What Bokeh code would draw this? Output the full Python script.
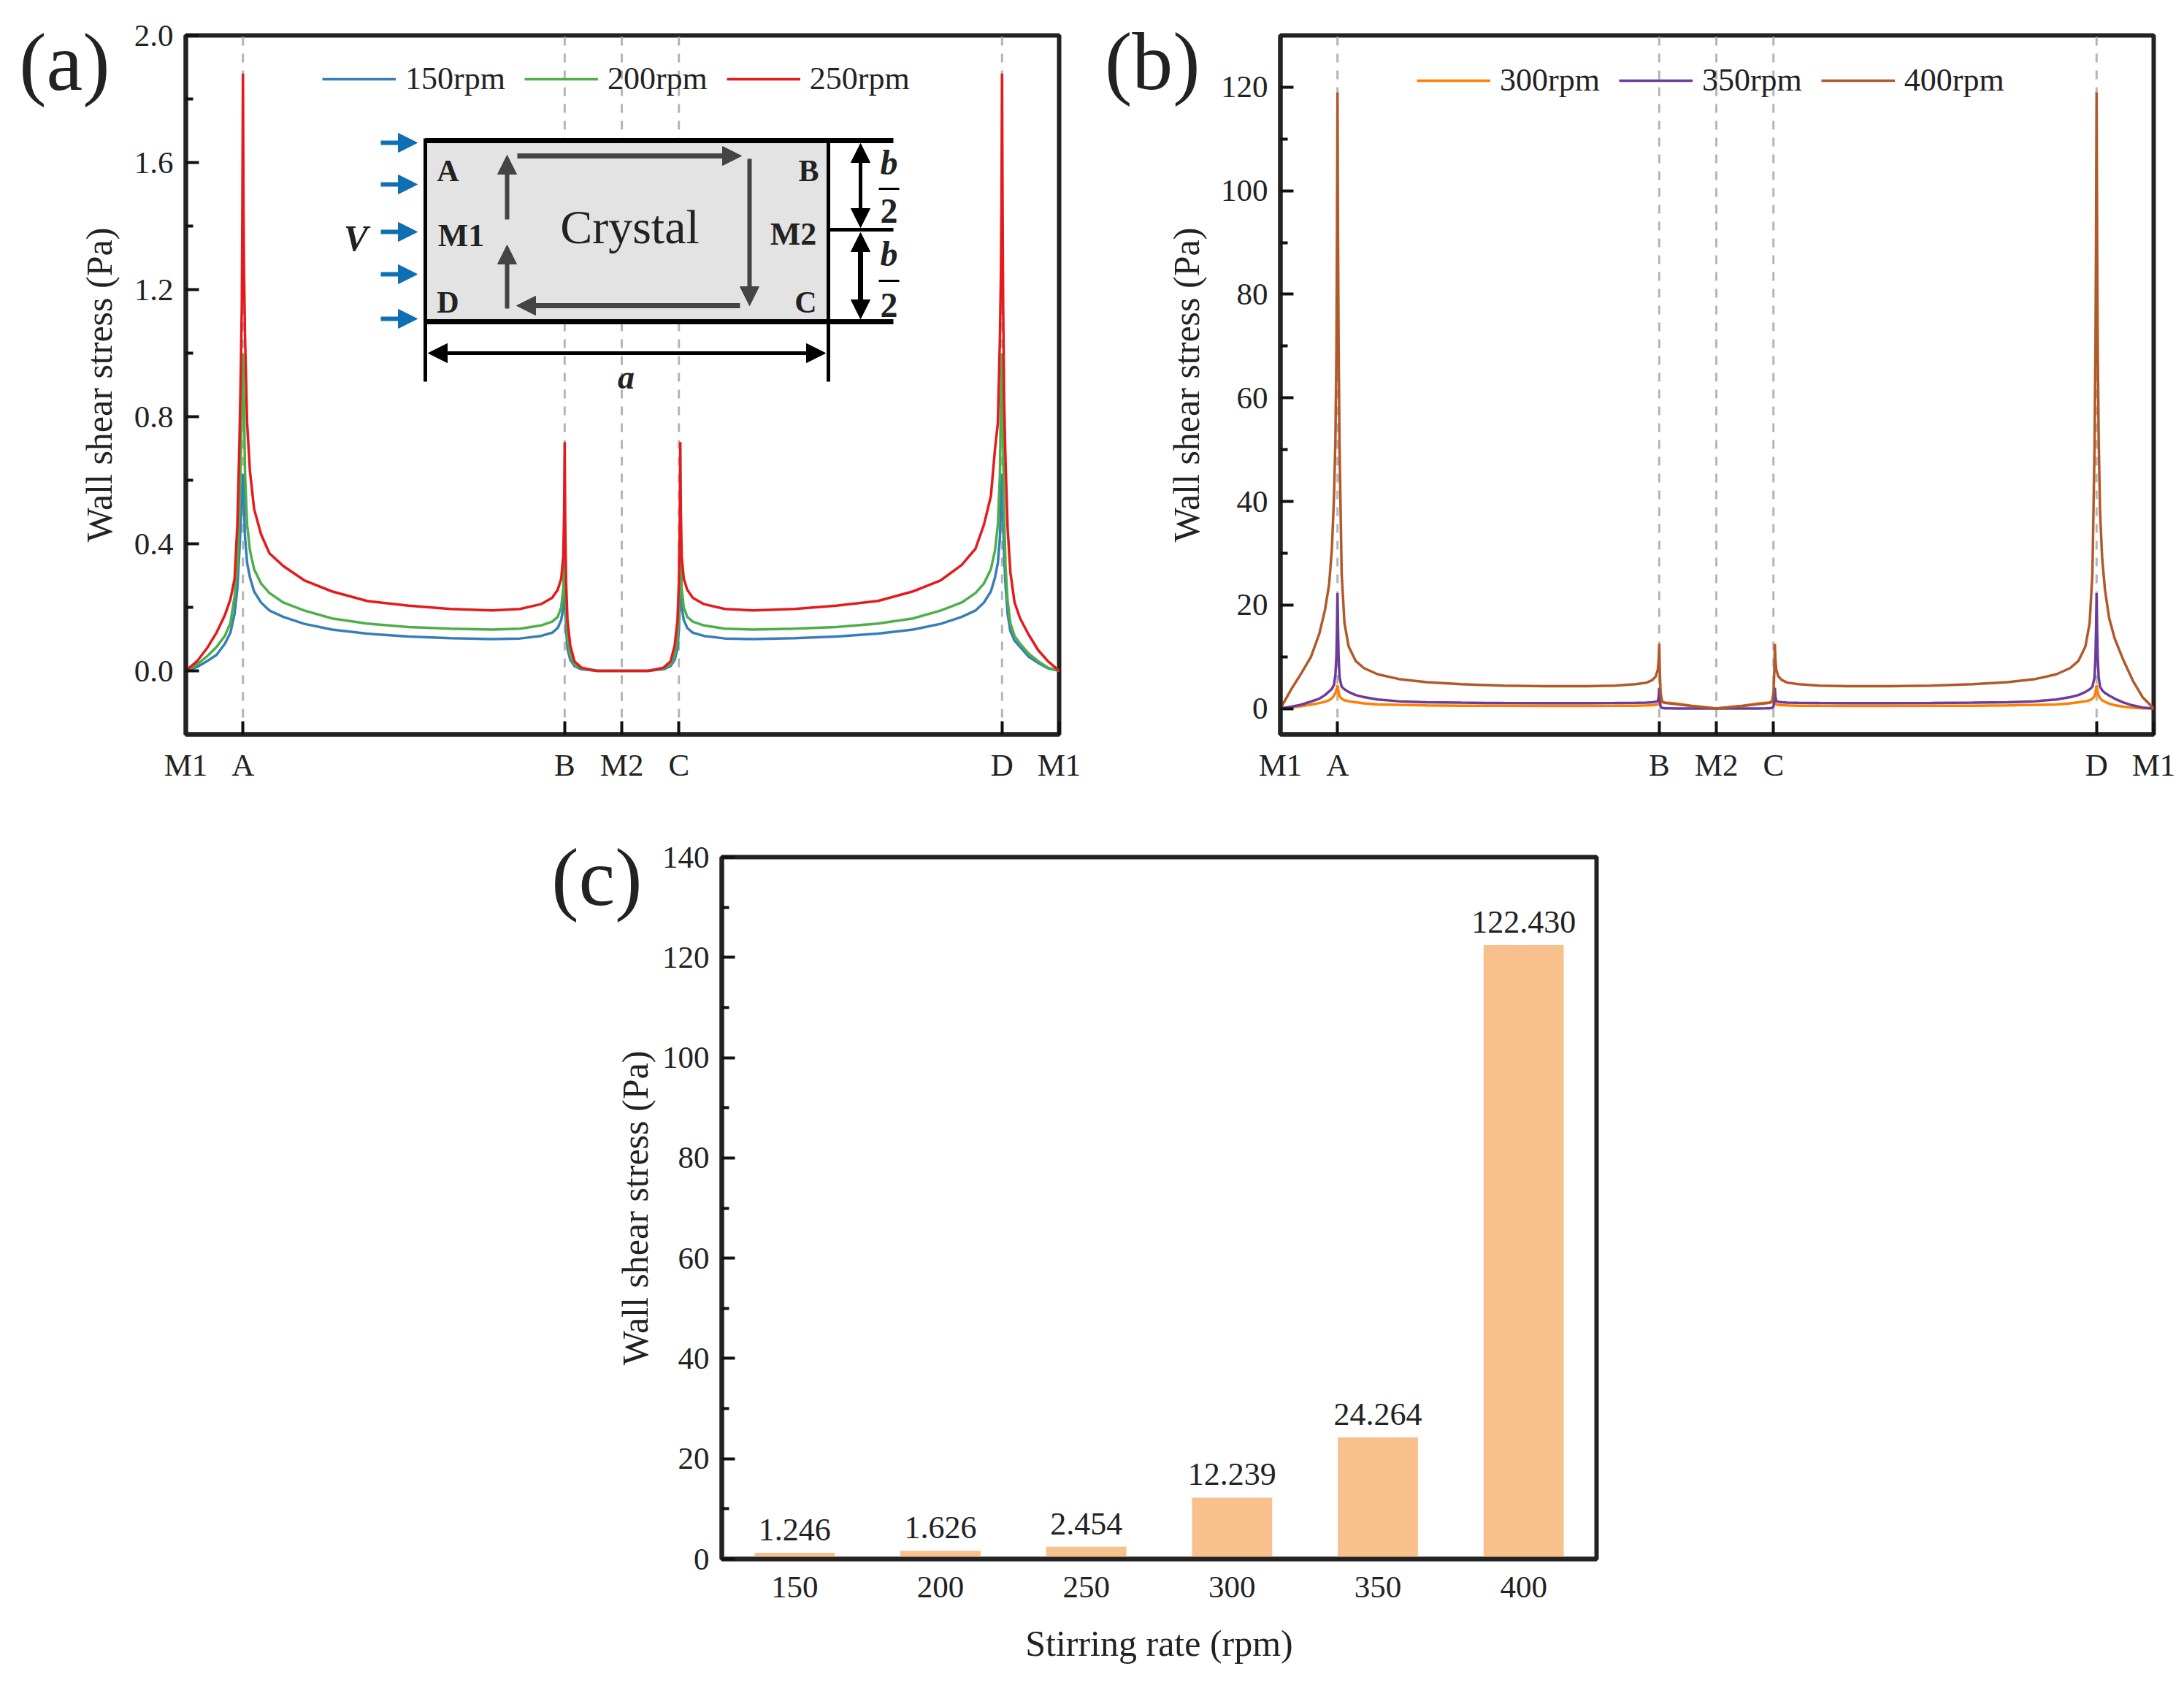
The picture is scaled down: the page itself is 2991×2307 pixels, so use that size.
from bokeh.plotting import figure
from bokeh.layouts import column, row
from bokeh.models import (FixedTicker, Range1d, FactorRange, Legend, LegendItem, Label, Arrow, NormalHead,
                          Spacer, ColumnDataSource, LinearAxis)
from bokeh.core.properties import value
from bokeh.embed import file_html
from bokeh.resources import INLINE

FONT = "Liberation Serif"
INK = "#222222"

# perimeter position of every sampled point (M1 -> A -> B -> M2 -> C -> D -> M1)
s = [0, 8, 15, 22, 28, 32, 35, 37, 38.5, 39.5, 40.2, 40.6, 41,
     41.4, 41.8, 42.5, 44, 46, 49, 54, 60, 70, 85, 105, 130, 160, 190, 220, 240, 255, 263, 267, 269.5, 271, 271.6, 272,
     272.4, 273, 274, 276, 279, 284, 295, 313,
     332, 343, 348, 351, 353, 354, 354.6, 355,
     355.4, 356, 357.5, 360, 364, 372, 387, 407, 437, 467, 497, 522, 542, 557, 567, 573, 578, 581, 583, 584.5, 585.2, 585.6, 586,
     586.4, 586.8, 587.5, 588.5, 590, 592, 595, 599, 605, 612, 619, 627]

rpm150 = [0, .012, .03, .05, .085, .12, .18, .26, .38, .47, .55, .59, .62,
          .59, .52, .42, .34, .295, .25, .215, .19, .17, .148, .13, .117, .108, .103, .10, .102, .11, .12, .135, .16, .2, .27, .36,
          .22, .13, .07, .035, .015, .005, 0, 0,
          0, .005, .015, .035, .07, .13, .22, .36,
          .27, .2, .16, .135, .12, .11, .102, .10, .103, .108, .117, .13, .148, .17, .19, .215, .25, .295, .34, .42, .52, .59, .62,
          .55, .47, .36, .27, .18, .125, .095, .075, .045, .025, .008, 0]
rpm200 = [0, .02, .045, .075, .11, .15, .235, .33, .5, .68, .82, .92, 1.0,
          .92, .85, .62, .46, .38, .32, .275, .245, .215, .19, .165, .149, .138, .133, .13, .133, .143, .155, .17, .2, .26, .34, .48,
          .3, .18, .1, .05, .02, .008, 0, 0,
          0, .008, .02, .05, .1, .18, .3, .48,
          .34, .26, .2, .17, .155, .143, .133, .13, .133, .138, .149, .165, .19, .215, .245, .275, .32, .38, .46, .62, .85, .92, 1.0,
          .85, .7, .5, .33, .22, .15, .11, .085, .055, .03, .01, 0]
rpm250 = [0, .03, .07, .12, .175, .225, .29, .46, .72, .95, 1.15, 1.45, 1.88,
          1.45, 1.25, 1.05, .78, .63, .51, .43, .37, .33, .285, .25, .22, .205, .195, .19, .195, .21, .23, .255, .29, .36, .5, .72,
          .45, .28, .16, .08, .03, .01, 0, 0,
          0, .01, .03, .08, .16, .28, .45, .72,
          .5, .36, .29, .255, .23, .21, .195, .19, .195, .205, .22, .25, .285, .333, .385, .46, .55, .70, .78, 1.05, 1.25, 1.45, 1.88,
          1.45, 1.15, .85, .66, .45, .31, .215, .165, .115, .065, .03, 0]
rpm300 = [0, .2, .45, .75, 1.05, 1.3, 1.6, 2, 2.5, 3, 3.6, 4, 4.5,
          3.8, 3.2, 2.4, 1.9, 1.6, 1.4, 1.2, 1, .8, .7, .6, .55, .52, .5, .5, .52, .55, .6, .65, .7, .8, 1, 1.3,
          1.3, 1.25, 1.2, 1.15, 1.1, .95, .55, 0,
          .55, .95, 1.1, 1.15, 1.2, 1.25, 1.3, 1.3,
          1, .8, .7, .65, .6, .55, .52, .5, .5, .52, .55, .6, .7, .8, 1, 1.2, 1.4, 1.6, 1.9, 2.4, 3.2, 3.8, 4.5,
          3.8, 3.2, 2.5, 2, 1.6, 1.3, .95, .65, .35, .15, .04, 0]
rpm350 = [0, .35, .75, 1.35, 1.9, 2.6, 3.3, 3.8, 4.6, 6.5, 10, 15, 22.3,
          15, 10, 6, 4.2, 3.7, 3.2, 2.6, 2.2, 1.75, 1.4, 1.2, 1.12, 1.05, 1.03, 1.03, 1.05, 1.1, 1.15, 1.2, 1.3, 1.5, 2.3, 4,
          1.5, .3, .1, .05, .03, .02, .01, 0,
          .01, .02, .03, .05, .1, .3, 1.5, 4,
          2.3, 1.5, 1.3, 1.2, 1.15, 1.1, 1.05, 1.03, 1.03, 1.05, 1.12, 1.2, 1.4, 1.75, 2.2, 2.6, 3.2, 3.7, 4.2, 6, 10, 15, 22.3,
          15, 10, 6, 4.2, 3.5, 3, 2.5, 1.9, 1.2, .6, .2, 0]
rpm400 = [0, 3.8, 6.8, 10, 14.5, 19, 24, 31, 41, 52, 68, 90, 119,
          90, 70, 50, 26, 16.5, 12, 9.2, 7.8, 6.6, 5.7, 5.1, 4.7, 4.4, 4.3, 4.3, 4.4, 4.7, 5, 5.5, 6.2, 7.5, 9.5, 12.5,
          7, 3, 1.4, 1.1, 1, .85, .5, 0,
          .5, .85, 1, 1.1, 1.4, 3, 7, 12.5,
          9.5, 7.5, 6.2, 5.5, 5, 4.7, 4.4, 4.3, 4.3, 4.4, 4.7, 5.1, 5.7, 6.6, 7.8, 9.2, 12, 16.5, 26, 50, 70, 90, 119,
          90, 70, 52, 38, 29, 23, 17.5, 13.5, 9.5, 5.4, 2.2, 0]

marker_pos = [0, 41, 272, 313, 354, 586, 627]
marker_lab = ["M1", "A", "B", "M2", "C", "D", "M1"]

y_ticks_a = [0.0, 0.4, 0.8, 1.2, 1.6, 2.0]
y_minor_a = [0.2, 0.6, 1.0, 1.4, 1.8]
y_ticks_b = [0, 20, 40, 60, 80, 100, 120]
y_minor_b = [10, 30, 50, 70, 90, 110]
y_ticks_c = [0, 20, 40, 60, 80, 100, 120, 140]
y_minor_c = [10, 30, 50, 70, 90, 110, 130]

rates = ["150", "200", "250", "300", "350", "400"]
peak_stress = [1.246, 1.626, 2.454, 12.239, 24.264, 122.430]
peak_labels = ["1.246", "1.626", "2.454", "12.239", "24.264", "122.430"]

AXIS_TXT = "43px"
LW = 3.5


def style(p, ylabel, yticks, yminor, standoff, fmt=None):
    p.outline_line_color = INK
    p.outline_line_width = 6
    p.grid.visible = False
    for ax in (p.xaxis[0], p.yaxis[0]):
        ax.axis_line_color = INK
        ax.axis_line_width = 6
        ax.major_tick_line_color = "#111111"
        ax.major_tick_line_width = 4
        ax.minor_tick_line_color = "#111111"
        ax.minor_tick_line_width = 4
        ax.major_tick_out = 0
        ax.minor_tick_out = 0
        ax.major_label_text_font = FONT
        ax.major_label_text_font_size = AXIS_TXT
        ax.major_label_text_color = INK
        ax.axis_label_text_font = FONT
        ax.axis_label_text_font_size = "50px"
        ax.axis_label_text_font_style = "normal"
        ax.axis_label_text_color = INK
    y = p.yaxis[0]
    y.ticker = FixedTicker(ticks=yticks, minor_ticks=yminor)
    y.major_tick_in = 18
    y.minor_tick_in = 10
    y.major_label_standoff = 17
    y.axis_label = ylabel
    y.axis_label_standoff = standoff
    if fmt:
        y.major_label_overrides = fmt


def marker_axis(p):
    x = p.xaxis[0]
    x.ticker = FixedTicker(ticks=marker_pos, minor_ticks=[])
    x.major_label_overrides = {m: l for m, l in zip(marker_pos[1:-1], marker_lab[1:-1])}
    x.major_label_overrides[0] = "M1"
    x.major_label_overrides[627] = "M1"
    x.major_tick_in = 18
    x.minor_tick_in = 0
    x.major_label_standoff = 18


def panel_tag(p, txt, y, standoff):
    # the tag sits beside the frame, where only an axis can draw
    p.add_layout(LinearAxis(ticker=FixedTicker(ticks=[y], minor_ticks=[]), major_label_overrides={y: txt},
                            axis_line_color=None, major_tick_line_color=None, minor_tick_line_color=None,
                            major_tick_in=0, major_tick_out=0, minor_tick_in=0, minor_tick_out=0,
                            major_label_standoff=standoff, major_label_text_font=FONT,
                            major_label_text_font_size="112px", major_label_text_color=INK), "left")


def legend(p, items, x, y):
    lg = Legend(items=[LegendItem(label=n, renderers=[r]) for n, r in items], orientation="horizontal",
                location=(x, y), background_fill_alpha=0, border_line_color=None, padding=0, margin=0,
                glyph_width=101, glyph_height=40, label_standoff=13, spacing=26,
                label_text_font=FONT, label_text_font_size="44px", label_text_color=INK)
    p.add_layout(lg, "center")


# ---------- panel (a)
FX0, FY0 = 254, 48          # page position of the frame
FW, FH = 1196, 957
pa = figure(width=1500, height=1100, output_backend="svg", toolbar_location=None,
            x_range=Range1d(0, 627), y_range=Range1d(-0.2, 2.0),
            min_border_left=254, min_border_right=50, min_border_top=48, min_border_bottom=95)
style(pa, "Wall shear stress (Pa)", y_ticks_a, y_minor_a, 17, {t: f"{t:.1f}" for t in y_ticks_a})
marker_axis(pa)
pa.segment(x0=marker_pos[1:-1], x1=marker_pos[1:-1], y0=[-0.2] * 5, y1=[2.0] * 5, line_color="#b5b5b5",
           line_width=3, line_dash="12 11")
r1 = pa.line(s, rpm150, line_color="#377eb8", line_width=LW)
r2 = pa.line(s, rpm200, line_color="#4daf4a", line_width=LW)
r3 = pa.line(s, rpm250, line_color="#e41a1c", line_width=LW)
legend(pa, [("150rpm", r1), ("200rpm", r2), ("250rpm", r3)], 187, 872)


def ax_(px):
    return (px - FX0) / FW * 627


def ay_(py):
    return 2.0 - (py - FY0) / FH * 2.2


def seg(x0, y0, x1, y1, w, color="black"):
    pa.segment(x0=[ax_(x0)], y0=[ay_(y0)], x1=[ax_(x1)], y1=[ay_(y1)], line_color=color, line_width=w)


def arrow(x0, y0, x1, y1, w, color, size, both=False):
    pa.add_layout(Arrow(x_start=ax_(x0), y_start=ay_(y0), x_end=ax_(x1), y_end=ay_(y1), line_color=color, line_width=w,
                        end=NormalHead(size=size, fill_color=color, line_color=color, line_width=1),
                        start=NormalHead(size=size, fill_color=color, line_color=color, line_width=1) if both else None))


def note(txt, x, y, size, style_="normal"):
    pa.add_layout(Label(x=ax_(x), y=ay_(y), text=txt, text_font=FONT, text_font_size=size, text_color=INK,
                        text_font_style=style_, text_align="center", text_baseline="middle"))


pa.quad(left=[ax_(582)], right=[ax_(1134)], top=[ay_(192)], bottom=[ay_(440)], fill_color="#e3e3e3", line_color=None)
seg(582, 192, 1223, 192, 7)
seg(582, 440, 1223, 440, 7)
seg(582, 189, 582, 522, 5)
seg(1134, 189, 1134, 522, 5)
seg(1134, 314, 1223, 314, 5)
arrow(586, 483, 1130, 483, 5, "black", 26, True)
arrow(1178, 196, 1178, 311, 5, "black", 26, True)
arrow(1178, 318, 1178, 436, 7, "black", 26, True)
seg(1203, 258, 1231, 258, 3)
seg(1203, 384, 1231, 384, 3)
for yy in (195, 252, 317, 375, 436):
    arrow(521, yy, 571, yy, 6, "#0f6fb5", 26)
arrow(694, 300, 694, 212, 6, "#444444", 26)
arrow(694, 422, 694, 335, 6, "#444444", 26)
arrow(708, 213, 1015, 213, 7, "#444444", 26)
arrow(1026, 217, 1026, 418, 6, "#444444", 26)
arrow(1013, 418, 707, 418, 7, "#444444", 26)
note("A", 613, 233, "42px", "bold")
note("B", 1107, 233, "42px", "bold")
note("M1", 631, 322, "44px", "bold")
note("M2", 1086, 320, "44px", "bold")
note("D", 613, 413, "42px", "bold")
note("C", 1103, 413, "42px", "bold")
note("Crystal", 862, 310, "66px")
note("V", 487, 325, "50px", "bold italic")
note("a", 857, 516, "46px", "bold italic")
note("b", 1217, 222, "48px", "bold italic")
note("2", 1217, 288, "48px", "bold")
note("b", 1217, 347, "48px", "bold italic")
note("2", 1217, 417, "48px", "bold")
panel_tag(pa, "(a)", 1.915, -46)

# ---------- panel (b)
pb = figure(width=1479, height=1100, output_backend="svg", toolbar_location=None,
            x_range=Range1d(0, 627), y_range=Range1d(-5, 130),
            min_border_left=253, min_border_right=30, min_border_top=48, min_border_bottom=95)
style(pb, "Wall shear stress (Pa)", y_ticks_b, y_minor_b, 16)
marker_axis(pb)
pb.segment(x0=marker_pos[1:-1], x1=marker_pos[1:-1], y0=[-5] * 5, y1=[130] * 5, line_color="#b5b5b5",
           line_width=3, line_dash="12 11")
r4 = pb.line(s, rpm300, line_color="#ff7f00", line_width=LW)
r5 = pb.line(s, rpm350, line_color="#6a3d9a", line_width=LW)
r6 = pb.line(s, rpm400, line_color="#b15928", line_width=LW)
legend(pb, [("300rpm", r4), ("350rpm", r5), ("400rpm", r6)], 187, 870)
panel_tag(pb, "(b)", 125, -50)

# ---------- panel (c)
pc = figure(width=1498, height=1195, output_backend="svg", toolbar_location=None,
            x_range=FactorRange(factors=rates, range_padding=0, factor_padding=0), y_range=Range1d(0, 140),
            min_border_left=250, min_border_right=50, min_border_top=73, min_border_bottom=161)
style(pc, "Wall shear stress (Pa)", y_ticks_c, y_minor_c, 6)
xa = pc.xaxis[0]
xa.major_tick_in = 0
xa.major_tick_out = 0
xa.major_tick_line_color = None
xa.major_label_standoff = 24
xa.major_label_orientation = "horizontal"
xa.axis_label = "Stirring rate (rpm)"
xa.axis_label_standoff = 32
src = ColumnDataSource(dict(x=rates, top=peak_stress, lab=peak_labels))
pc.vbar(x="x", top="top", width=0.55, source=src, fill_color="#f8c08c", line_color=None)
pc.text(x="x", y="top", text="lab", source=src, text_font=value(FONT), text_font_size="44px", text_color=INK,
        text_align="center", text_baseline="bottom", y_offset=-17)
panel_tag(pc, "(c)", 136, -41)

page = column(row(pa, pb, spacing=0), row(Spacer(width=738, height=10), pc, spacing=0), spacing=0)
open("out.html", "w").write(file_html(page, INLINE))
